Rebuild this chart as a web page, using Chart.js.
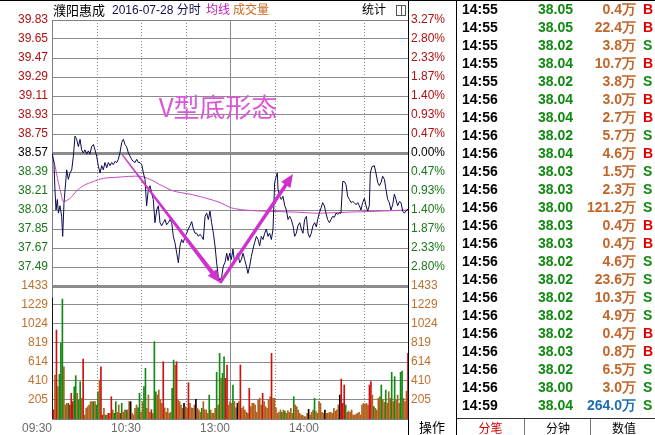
<!DOCTYPE html>
<html>
<head>
<meta charset="utf-8">
<script src="https://cdn.jsdelivr.net/npm/chart.js@4.4.0/dist/chart.umd.min.js"></script>
<style>
body{margin:0;background:#fff;}
#box{position:relative;width:655px;height:435px;overflow:hidden;background:#fff;font-family:"Liberation Sans",Arial,sans-serif;}
#c{position:absolute;left:0;top:0;}
.hd{position:absolute;top:2px;height:16px;line-height:16px;font-size:12px;white-space:nowrap;font-family:"Liberation Sans","Noto Sans CJK SC",sans-serif;}
#topline{position:absolute;left:0;top:0;width:655px;height:1px;background:#000;}
#icon{position:absolute;left:396px;top:5px;width:8px;height:9px;border:1px solid #555;}
#icon:after{content:"";position:absolute;left:4px;top:0;width:1px;height:9px;background:#555;}
#op{position:absolute;left:409px;top:419px;width:46px;height:16px;line-height:16px;text-align:center;font-size:13px;font-family:"Noto Sans CJK SC",sans-serif;color:#000;}
#tbl{position:absolute;left:456px;top:0;width:199px;height:435px;border-left:1px solid #000;}
.r{position:absolute;left:0;width:199px;height:18px;line-height:18px;font-weight:bold;font-size:14px;white-space:nowrap;}
.r span{position:absolute;top:0;}
.t{left:5px;color:#000;}
.p{right:83px;color:#108a10;}
.v{right:20px;}
.s{left:186px;}
#tabs{position:absolute;left:0;top:418px;width:199px;height:17px;border-top:1px solid #333;font-size:12px;font-family:"Noto Sans CJK SC",sans-serif;}
#tabs div{position:absolute;top:0;height:17px;line-height:17px;text-align:center;}
</style>
</head>
<body>
<div id="box">
  <canvas id="c" width="455" height="435"></canvas>
  <div id="topline"></div>
  <div class="hd" style="left:53px;font-size:13px;color:#000;font-family:'Noto Sans CJK SC',sans-serif;">濮阳惠成</div>
  <div class="hd" style="left:112px;color:#101050;">2016-07-28 分时</div>
  <div class="hd" style="left:206px;color:#c020c0;">均线</div>
  <div class="hd" style="left:233px;color:#c86a20;">成交量</div>
  <div class="hd" style="left:362px;color:#000;">统计</div>
  <div id="icon"></div>
  <div id="op">操作</div>
  <div id="tbl"></div>
</div>
<script>
// ---- data ----
const timeLabels = ['09:30', '10:30', '13:00', '14:00'];
const timeLabelAt = [0, 60, 120, 180];
const gridMinutes = [30, 60, 90, 120, 150, 180, 210];

const preClose = 38.57;
const priceTicks = [39.83, 39.65, 39.47, 39.29, 39.11, 38.93, 38.75, 38.57, 38.39, 38.21, 38.03, 37.85, 37.67, 37.49];
const pctLabels = ['3.27%', '2.80%', '2.33%', '1.87%', '1.40%', '0.93%', '0.47%', '0.00%', '0.47%', '0.93%', '1.40%', '1.87%', '2.33%', '2.80%'];
const volTicks = [1433, 1229, 1024, 819, 614, 410, 205];

const priceTime = [0, 1.3, 2, 2.7, 3.6, 4.3, 5.4, 6.5, 7.2, 8.1, 8.8, 9.9, 11, 12.1, 13.3, 14.4, 15.5, 16.6, 17.8, 18.9,
  20, 21.1, 22.2, 23.4, 24.5, 25.6, 26.7, 27.9, 29, 30.1, 31.2, 32.4, 33.5, 34.6, 35.7, 36.9, 38, 39.1, 40.2, 41.3,
  42.5, 43.6, 44.7, 45.8, 47, 48.1, 49.2, 50.3, 51.5, 52.6, 53.7, 54.8, 56, 57.1, 58.2, 59.3, 60.5, 61.6, 62.7, 63.8,
  64.9, 66.1, 67.2, 68.3, 69.4, 70.6, 71.7, 72.8, 73.9, 75, 76.2, 77.3, 78.4, 79.6, 80.7, 81.8, 82.9, 84.1, 85.2, 86.3,
  87.4, 88.5, 89.7, 90.8, 91.9, 93, 94.2, 95.3, 96.4, 97.5, 98.7, 99.8, 100.9, 102, 103.2, 104.3, 105.4, 106.5, 107.6, 108.8,
  109.9, 111, 112.1, 113.3, 114.4, 115.5, 116.6, 117.8, 118.7, 119.8, 120.9, 122, 123.1, 124.3, 125.4, 126.5, 127.6, 128.8, 129.9, 131,
  132.1, 133.3, 134.4, 135.5, 136.6, 137.8, 138.9, 140, 141.1, 142.2, 143.4, 144.5, 145.6, 146.7, 147.9, 149, 150.1, 151.2, 151.9, 152.4,
  153.5, 154.6, 155.7, 156.9, 158, 159.1, 160.2, 161.3, 162.5, 163.6, 164.7, 165.8, 167, 168.1, 169.2, 170.3, 171.5, 172.6, 173.7, 174.8,
  175.9, 177.1, 178.2, 179.1, 180.2, 181.4, 182.5, 183.6, 184.7, 185.8, 187, 188.1, 189.2, 190.3, 191.5, 192.6, 193.7, 194.8, 196, 197.1,
  198.2, 199.3, 200.5, 201.6, 202.7, 203.8, 205, 206.1, 207.2, 208.3, 209.4, 210.6, 211.7, 212.8, 213.9, 214.6, 215.7, 217.3, 218.4, 219.6,
  220.7, 221.8, 222.9, 224.1, 225.2, 226.3, 227.4, 228.5, 229.7, 230.8, 231.9, 233, 234.2, 235.3, 236.4, 237.5, 238.7, 240];
const priceValue = [38.57, 38.48, 38.22, 38.03, 38.13, 38.00, 38.07, 37.97, 37.78, 38.10, 38.22, 38.41, 38.32, 38.38, 38.41, 38.54, 38.73, 38.70, 38.63, 38.70,
  38.60, 38.57, 38.60, 38.56, 38.59, 38.56, 38.63, 38.65, 38.60, 38.54, 38.45, 38.38, 38.45, 38.41, 38.48, 38.43, 38.48, 38.45, 38.48, 38.46,
  38.49, 38.48, 38.51, 38.57, 38.67, 38.70, 38.65, 38.63, 38.57, 38.54, 38.51, 38.49, 38.48, 38.51, 38.48, 38.48, 38.46, 38.38, 38.32, 38.07,
  38.22, 38.26, 38.19, 38.13, 37.91, 38.03, 38.07, 37.91, 37.88, 37.91, 37.94, 37.89, 37.91, 37.94, 37.91, 37.78, 37.72, 37.62, 37.53, 37.69,
  37.75, 37.72, 37.78, 37.81, 37.85, 37.88, 37.92, 37.85, 37.81, 37.81, 37.78, 37.80, 37.78, 37.75, 37.97, 38.00, 37.94, 38.02, 37.91, 37.81,
  37.69, 37.53, 37.40, 37.36, 37.40, 37.50, 37.53, 37.62, 37.55, 37.62, 37.56, 37.66, 37.53, 37.59, 37.62, 37.53, 37.56, 37.62, 37.56, 37.50,
  37.43, 37.50, 37.59, 37.66, 37.72, 37.78, 37.75, 37.69, 37.78, 37.75, 37.81, 37.85, 37.78, 37.81, 37.75, 37.85, 38.29, 38.35, 38.38, 38.22,
  38.16, 38.13, 38.16, 38.07, 38.03, 37.94, 37.97, 37.94, 37.88, 37.78, 37.81, 37.88, 37.91, 37.85, 37.81, 37.94, 37.97, 37.81, 37.77, 37.81,
  37.88, 37.91, 37.87, 37.94, 38.00, 38.05, 38.10, 38.07, 38.00, 37.94, 37.91, 37.94, 37.97, 37.96, 38.00, 37.99, 38.00, 38.00, 38.30, 38.30,
  38.27, 38.16, 38.13, 38.10, 38.11, 38.10, 38.08, 38.10, 38.07, 38.03, 38.10, 38.14, 38.07, 38.02, 38.07, 38.38, 38.44, 38.45, 38.38, 38.29,
  38.26, 38.29, 38.35, 38.32, 38.22, 38.13, 38.10, 38.03, 38.08, 38.18, 38.13, 38.07, 38.11, 38.10, 38.02, 38.00, 38.02, 38.04];

const avgTime = [0, 2, 4.3, 6.5, 7.6, 12.1, 16.6, 21.1, 27.9, 34.6, 43.6, 59.3, 66.1, 72.8, 81.8, 93, 104.3, 113.3, 121.1, 129.9, 141.1, 163.6, 179.3, 200.5, 223, 240];
const avgValue = [38.57, 38.45, 38.29, 38.16, 38.11, 38.14, 38.21, 38.26, 38.30, 38.33, 38.34, 38.35, 38.32, 38.27, 38.21, 38.18, 38.14, 38.10, 38.05, 38.03, 38.02, 38.01, 38.00, 38.01, 38.02, 38.03];

const volValue = [
  1306, 100, 474, 958, 348, 481, 815, 1292, 563, 151,
  169, 169, 150, 277, 187, 348, 467, 277, 205, 402,
  223, 646, 43, 115, 133, 150, 187, 187, 187, 187,
  150, 294, 420, 563, 43, 115, 43, 43, 61, 60,
  240, 97, 61, 187, 72, 151, 61, 169, 72, 97,
  97, 97, 187, 187, 61, 43, 115, 151, 120, 277,
  72, 187, 348, 546, 115, 258, 72, 100, 61, 833,
  294, 258, 312, 205, 169, 617, 120, 72, 115, 61,
  72, 330, 635, 582, 617, 200, 187, 151, 115, 169,
  133, 115, 391, 169, 120, 115, 151, 212, 115, 97,
  72, 115, 187, 100, 97, 61, 258, 97, 61, 61,
  115, 503, 150, 707, 438, 492, 671, 438, 582, 151,
  187, 169, 366, 187, 120, 169, 187, 582, 115, 133,
  97, 72, 61, 330, 133, 169, 169, 151, 72, 205,
  223, 150, 277, 187, 133, 115, 205, 240, 707, 223,
  223, 120, 61, 72, 97, 72, 97, 86, 61, 90,
  72, 115, 61, 240, 151, 133, 97, 61, 43, 40,
  25, 25, 61, 104, 43, 72, 97, 223, 80, 61,
  187, 169, 72, 61, 97, 61, 61, 70, 72, 61,
  115, 86, 97, 151, 258, 431, 169, 366, 151, 72,
  86, 72, 97, 43, 43, 50, 61, 72, 43, 151,
  169, 160, 169, 151, 366, 402, 258, 133, 115, 97,
  223, 240, 366, 205, 180, 312, 169, 294, 223, 503,
  187, 456, 200, 258, 169, 503, 517, 223, 187, 300,
  707];
// k black, r red, g green, b brown
const volColor = ('krbrbgggbb' + 'bgrrrggbgg' + 'brbbbbbbgb' + 'ggbrrbgbrb' + 'rbggbbrgbb' +
  'gbbkbbbbgg' + 'bbggbbbrbg' + 'gbbbbrbbbb' + 'bggbrbbbbk' + 'bbrbbbbkbb' +
  'bgbbbbgbbb' + 'bgbgbggrrb' + 'bbgbbkbrbb' + 'bbbrbbbbbb' + 'bbrbbbbbrb' +
  'bbbbbgbgbb' + 'bbbgbbbbbb' + 'bbbkbbbgbb' + 'bbbbkbbbbb' + 'bbbbkrrrgb' +
  'bbbbbbbbbb' + 'bbbbrrbgbb' + 'bbgbbgbbbg' + 'bgbbbggbbb' + 'r').split('');

// V bottom note: arrows in (minute, price)
const arrowDown = [[47.2, 38.556], [113.3, 37.34]];
const arrowUp = [[113.3, 37.34], [162.5, 38.37]];
const noteText = 'V型底形态';
const noteAt = [112, 39.00];

// trade list
const tradeTime = ['14:55', '14:55', '14:55', '14:55', '14:55', '14:56', '14:56', '14:56', '14:56', '14:56', '14:56', '14:56',
  '14:56', '14:56', '14:56', '14:56', '14:56', '14:56', '14:56', '14:56', '14:56', '14:56', '14:59'];
const tradePrice = [38.05, 38.05, 38.02, 38.04, 38.02, 38.04, 38.04, 38.02, 38.04, 38.03, 38.03, 38.00,
  38.03, 38.03, 38.02, 38.02, 38.02, 38.02, 38.02, 38.03, 38.02, 38.00, 38.04];
const tradeVol = [0.4, 22.4, 3.8, 10.7, 3.8, 3.0, 2.7, 5.7, 4.6, 1.5, 2.3, 121.2,
  0.4, 0.4, 4.6, 23.6, 10.3, 4.9, 0.4, 0.8, 6.5, 3.0, 264.0];
const tradeSide = ['B', 'B', 'S', 'B', 'S', 'B', 'B', 'S', 'B', 'S', 'S', 'S',
  'B', 'B', 'S', 'S', 'S', 'S', 'B', 'B', 'S', 'S', 'S'];
const tabNames = ['分笔', '分钟', '数值'];

// ---- chart ----
const barColors = {k: '#000000', r: '#d01010', g: '#108a10', b: '#b0601c'};
const RED = '#b01010', GREEN = '#1a781a', ORANGE = '#c0702c';

function priceTickColor(ctx) {
  const v = ctx.tick.value;
  if (Math.abs(v - preClose) < 0.001) return '#000';
  return v > preClose ? RED : GREEN;
}

const overlay = {
  id: 'overlay',
  beforeDatasetsDraw(chart) {
    const {ctx, chartArea: a, scales} = chart;
    ctx.save();
    ctx.strokeStyle = '#8a8a8a';
    ctx.lineWidth = 1;
    gridMinutes.forEach(m => {
      const x = Math.round(scales.x.getPixelForValue(m)) + 0.5;
      ctx.setLineDash(m === 120 ? [] : [1, 2]);
      ctx.beginPath();
      ctx.moveTo(x, a.top);
      ctx.lineTo(x, a.bottom);
      ctx.stroke();
    });
    ctx.setLineDash([]);
    ctx.strokeStyle = '#808080';
    ctx.beginPath();
    ctx.moveTo(a.left + 0.5, a.top);
    ctx.lineTo(a.left + 0.5, a.bottom + 0.5);
    ctx.lineTo(a.right + 0.5, a.bottom + 0.5);
    ctx.moveTo(a.left, a.top + 0.5);
    ctx.lineTo(a.right, a.top + 0.5);
    ctx.stroke();
    ctx.strokeStyle = '#000';
    ctx.beginPath();
    ctx.moveTo(a.right + 0.5, 0);
    ctx.lineTo(a.right + 0.5, chart.height);
    ctx.stroke();
    ctx.restore();
  },
  afterDatasetsDraw(chart) {
    const {ctx, scales} = chart;
    const px = p => [scales.x.getPixelForValue(p[0]), scales.y.getPixelForValue(p[1])];
    ctx.save();
    ctx.fillStyle = '#d030d0';
    drawArrow(ctx, px(arrowDown[0]), px(arrowDown[1]), 0.6, 2.2);
    drawArrow(ctx, px(arrowUp[0]), px(arrowUp[1]), 1.6, 1.8);
    const [tx, ty] = px(noteAt);
    ctx.fillStyle = '#d858d8';
    ctx.font = '26px "Noto Sans CJK SC", sans-serif';
    ctx.textAlign = 'center';
    ctx.textBaseline = 'middle';
    ctx.fillText(noteText, tx, ty);
    ctx.restore();
  }
};

// tapered shaft plus filled head
function drawArrow(ctx, p0, p1, w0, w1) {
  const dx = p1[0] - p0[0], dy = p1[1] - p0[1];
  const len = Math.hypot(dx, dy);
  const ux = dx / len, uy = dy / len, nx = -uy, ny = ux;
  const head = 13, hw = 5.5;
  const bx = p1[0] - ux * head, by = p1[1] - uy * head;
  ctx.beginPath();
  ctx.moveTo(p0[0] + nx * w0, p0[1] + ny * w0);
  ctx.lineTo(bx + nx * w1, by + ny * w1);
  ctx.lineTo(bx + nx * hw, by + ny * hw);
  ctx.lineTo(p1[0], p1[1]);
  ctx.lineTo(bx - nx * hw, by - ny * hw);
  ctx.lineTo(bx - nx * w1, by - ny * w1);
  ctx.lineTo(p0[0] - nx * w0, p0[1] - ny * w0);
  ctx.closePath();
  ctx.fill();
}

const tickFont = {family: '"Liberation Sans", Arial, sans-serif', size: 12};

function fixedTicks(list) {
  return scale => { scale.ticks = list.map(v => ({value: v})); };
}

new Chart(document.getElementById('c'), {
  data: {
    datasets: [
      {
        type: 'bar', yAxisID: 'yv',
        data: volValue.map((v, i) => ({x: i, y: v})),
        backgroundColor: volColor.map(c => barColors[c]),
        barThickness: 1, borderWidth: 0, order: 3
      },
      {
        type: 'line', yAxisID: 'y',
        data: avgTime.map((t, i) => ({x: t, y: avgValue[i]})),
        borderColor: '#c848c8', borderWidth: 1, pointRadius: 0, tension: 0.3, order: 2
      },
      {
        type: 'line', yAxisID: 'y',
        data: priceTime.map((t, i) => ({x: t, y: priceValue[i]})),
        borderColor: '#0a0a50', borderWidth: 1, pointRadius: 0, tension: 0, order: 1
      }
    ]
  },
  options: {
    responsive: false,
    animation: false,
    devicePixelRatio: 1,
    layout: {padding: {top: 20, left: 0, right: 0, bottom: 0}},
    plugins: {legend: {display: false}, tooltip: {enabled: false}},
    scales: {
      x: {
        type: 'linear', min: 0, max: 240, offset: false,
        afterBuildTicks: fixedTicks(timeLabelAt),
        afterFit: s => { s.height = 16; },
        grid: {display: false, drawTicks: false},
        border: {display: false},
        ticks: {
          align: 'end', padding: 2, maxRotation: 0, autoSkip: false,
          color: '#6a6a6a', font: tickFont,
          callback: v => timeLabels[timeLabelAt.indexOf(v)]
        }
      },
      y: {
        position: 'left', stack: 'L', stackWeight: 2, weight: 1,
        min: 37.31, max: 39.83,
        afterBuildTicks: fixedTicks(priceTicks),
        afterFit: s => { s.width = 52; },
        border: {display: false},
        grid: {
          drawTicks: false, color: '#8c8c8c',
          lineWidth: c => (c.tick && Math.abs(c.tick.value - preClose) < 0.001) ? 3 : 1
        },
        ticks: {padding: 4, autoSkip: false, color: priceTickColor, font: tickFont, callback: v => v.toFixed(2)}
      },
      yv: {
        position: 'left', stack: 'L', stackWeight: 1, weight: 0,
        min: 0, max: 1433,
        afterBuildTicks: fixedTicks(volTicks),
        afterFit: s => { s.width = 52; },
        border: {display: false},
        grid: {
          drawTicks: false, color: '#8c8c8c',
          lineWidth: c => (c.tick && c.tick.value === 1433) ? 3 : 1
        },
        ticks: {padding: 4, autoSkip: false, color: ORANGE, font: tickFont, callback: v => String(v)}
      },
      yp: {
        position: 'right', stack: 'R', stackWeight: 2, weight: 0,
        min: 37.31, max: 39.83,
        afterBuildTicks: fixedTicks(priceTicks),
        afterFit: s => { s.width = 47; },
        border: {display: false},
        grid: {display: false, drawTicks: false},
        ticks: {padding: 3, autoSkip: false, color: priceTickColor, font: tickFont,
          callback: v => pctLabels[priceTicks.findIndex(p => Math.abs(p - v) < 0.001)]}
      },
      yvr: {
        position: 'right', stack: 'R', stackWeight: 1, weight: 1,
        min: 0, max: 1433,
        afterBuildTicks: fixedTicks(volTicks),
        afterFit: s => { s.width = 47; },
        border: {display: false},
        grid: {display: false, drawTicks: false},
        ticks: {padding: 3, autoSkip: false, color: ORANGE, font: tickFont, callback: v => String(v)}
      }
    }
  },
  plugins: [overlay]
});

// ---- trade list ----
let html = '';
tradeTime.forEach((t, i) => {
  const last = i === tradeTime.length - 1;
  html += '<div class="r" style="top:' + (i * 18) + 'px">' +
    '<span class="t">' + t + '</span>' +
    '<span class="p">' + tradePrice[i].toFixed(2) + '</span>' +
    '<span class="v" style="color:' + (last ? '#1f6fb0' : '#c0662a') + '">' + tradeVol[i].toFixed(1) + '万</span>' +
    '<span class="s" style="color:' + (tradeSide[i] === 'B' ? '#e00000' : '#108a10') + '">' + tradeSide[i] + '</span>' +
    '</div>';
});
html += '<div id="tabs">' +
  '<div style="left:0;width:67px;color:#d00000;">' + tabNames[0] + '</div>' +
  '<div style="left:67px;width:66px;border-left:1px solid #777;">' + tabNames[1] + '</div>' +
  '<div style="left:133px;width:66px;border-left:1px solid #777;">' + tabNames[2] + '</div>' +
  '</div>';
document.getElementById('tbl').innerHTML = html;
</script>
</body>
</html>
